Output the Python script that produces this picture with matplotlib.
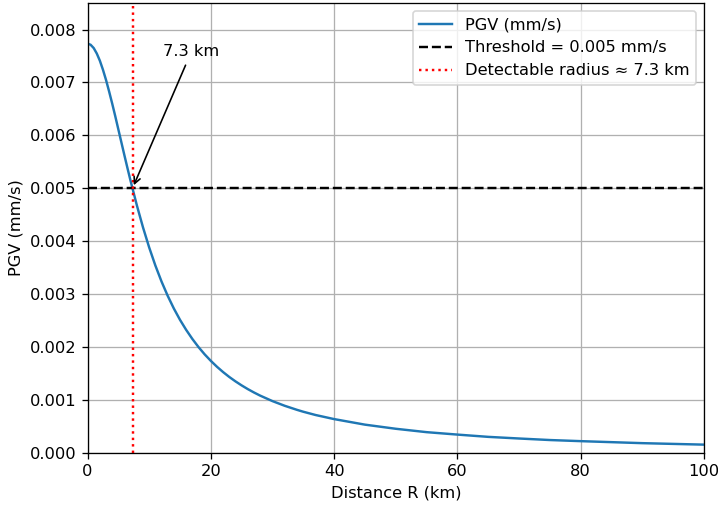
import matplotlib
matplotlib.use("Agg")
import matplotlib.pyplot as plt

# Data
distance_km = [0, 0.5, 1, 1.5, 2, 2.5, 3, 3.5, 4, 4.5, 5, 5.5, 6, 6.5, 7, 7.3, 8, 9, 10,
               11, 12, 13, 14, 15, 16, 17, 18, 19, 20, 21, 22, 23, 24, 25, 26, 27, 28,
               30, 32, 34, 35, 37, 40, 45, 50, 55, 60, 65, 70, 75, 80, 90, 100]
pgv_mm_s = [0.007734, 0.007712, 0.007650, 0.007547, 0.007411, 0.007241, 0.007047,
            0.006830, 0.006601, 0.006361, 0.006112, 0.005863, 0.005614, 0.005370,
            0.005131, 0.004995, 0.004677, 0.004259, 0.003880, 0.003540, 0.003237,
            0.002967, 0.002726, 0.002512, 0.002322, 0.002151, 0.001997, 0.001859,
            0.001736, 0.001624, 0.001523, 0.001431, 0.001348, 0.001272, 0.001202,
            0.001138, 0.001079, 0.000975, 0.000886, 0.000809, 0.000774, 0.000712,
            0.000635, 0.000530, 0.000452, 0.000388, 0.000342, 0.000299, 0.000268,
            0.000239, 0.000218, 0.000180, 0.000152]
threshold = 0.005
radius_km = 7.3

DPI = 116.7
fig = plt.figure(figsize=(718 / DPI, 508 / DPI), dpi=DPI)
ax = fig.add_axes([0.1219, 0.1089, 0.9805 - 0.1219, 0.9947 - 0.1089])

ax.plot(distance_km, pgv_mm_s, label="PGV (mm/s)")
ax.axhline(threshold, color="k", linestyle="--", label=f"Threshold = {threshold} mm/s")
ax.axvline(radius_km, color="r", linestyle=":", label=f"Detectable radius \u2248 {radius_km} km")
ax.annotate(f"{radius_km} km", xy=(radius_km, threshold), xytext=(radius_km + 5, threshold * 1.5),
            arrowprops=dict(arrowstyle="->", color="k"))

ax.set_xlim(0, 100)
ax.set_ylim(0, max(pgv_mm_s) * 1.1)
ax.set_xlabel("Distance R (km)")
ax.set_ylabel("PGV (mm/s)")
ax.grid(True)
ax.legend(loc="upper right")

fig.savefig("out.png", dpi=DPI)
